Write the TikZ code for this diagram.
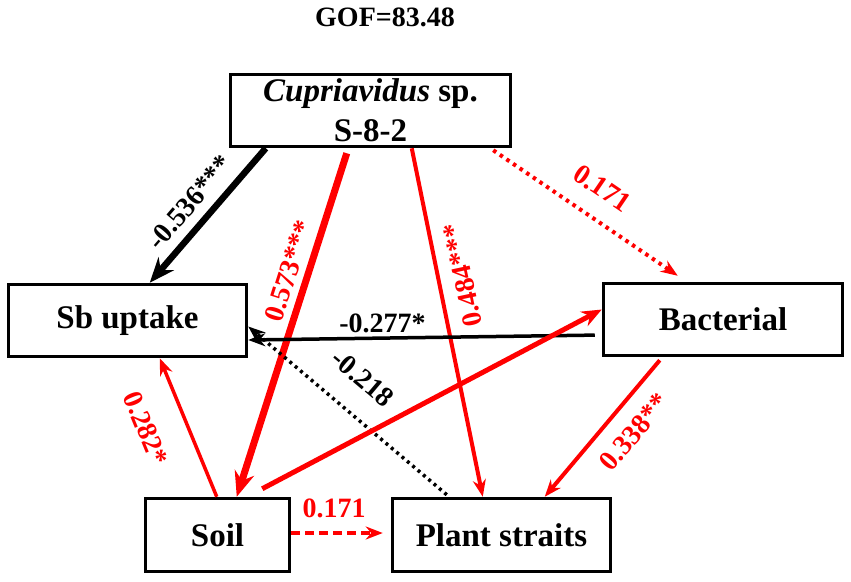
\documentclass[tikz,border=0pt]{standalone}
\usepackage{fontspec}
\setmainfont{Liberation Serif}
\usetikzlibrary{arrows.meta,calc}

\begin{document}
\begin{tikzpicture}[x=1pt, y=-1pt,
      box/.style={draw, line width=3.5pt, align=center, inner sep=0pt,
                  font=\bfseries\fontsize{33}{40}\selectfont},
      lbl/.style={font=\bfseries\fontsize{28}{30}\selectfont},
      arr/.style={-{Stealth[length=17pt, width=13pt]}, line width=3.5pt},
      bigarr/.style={-{Stealth[length=25pt, width=20pt]}, line width=6.5pt},
      dots/.style={dash pattern=on 3.5pt off 4.5pt}]
    \useasboundingbox (0,0) rectangle (851,581);
    % variables
    \node[lbl] (gof) at (385,17.5) {GOF=83.48};
    \node[box, minimum width=280pt, minimum height=72pt] (cup) at (370.5,110.5)
      {\textit{Cupriavidus} sp.\\S-8-2};
    \node[box, minimum width=238pt, minimum height=72pt] (sb) at (127.5,320.5) {Sb uptake};
    \node[box, minimum width=239pt, minimum height=72pt] (bac) at (723,319.5) {Bacterial};
    \node[box, minimum width=144pt, minimum height=73pt] (soil) at (217.5,535) {Soil};
    \node[box, minimum width=218pt, minimum height=73pt] (plant) at (501.5,535) {Plant straits};
    % paths
    \draw[bigarr] ($(cup.south west)+(37,0)$) --
      node[lbl, sloped, pos=0.51, above=6pt] {-0.536***} ($(sb.north west)+(143,0)$);
    \draw[bigarr, red, line width=7pt] ($(cup.south west)+(118,5)$) --
      node[lbl, red, sloped, pos=0.36, above=3pt] {0.573***} ($(soil.north west)+(93,0)$);
    \draw[arr, red, line width=4pt] ($(cup.south west)+(183,0)$) --
      node[lbl, red, pos=0.38, rotate=102, below=10pt] {0.484***} ($(plant.north west)+(92,0)$);
    \draw[arr, red, line width=4pt, dots] ($(cup.south east)+(-19,2)$) --
      node[lbl, red, sloped, pos=0.5, above=15pt] {0.171} ($(bac.north west)+(76,-6)$);
    \draw[arr, shorten <=7pt] ($(bac.west)+(0,15.5)$) --
      node[lbl, pos=0.62, above] {-0.277*} ($(sb.east)+(0,19.5)$);
    \draw[arr, dash pattern=on 3pt off 4pt] ($(plant.north west)+(56,-2)$) --
      node[lbl, sloped, pos=0.535, above=20pt] {-0.218} ($(sb.east)+(0,6)$);
    \draw[arr, red] ($(soil.north west)+(73,0)$) --
      node[lbl, red, sloped, pos=0.6, below=25pt] {0.282*} ($(sb.south west)+(153,0)$);
    \draw[red, line width=5pt, -{Stealth[length=20pt, width=16pt]}]
      ($(soil.north east)+(-29,-8)$) -- ($(bac.west)+(0,-10)$);
    \draw[arr, red, line width=4pt] ($(bac.south west)+(58,3)$) --
      node[lbl, red, sloped, pos=0.4, below=12pt] {0.338**} ($(plant.north west)+(154,0)$);
    \draw[arr, red, dash pattern=on 9pt off 5pt, shorten >=8pt] ($(soil.east)+(0,-2)$) --
      node[lbl, red, pos=0.43, above=10pt] {0.171} ($(plant.west)+(0,-2)$);
  \end{tikzpicture}
\end{document}
